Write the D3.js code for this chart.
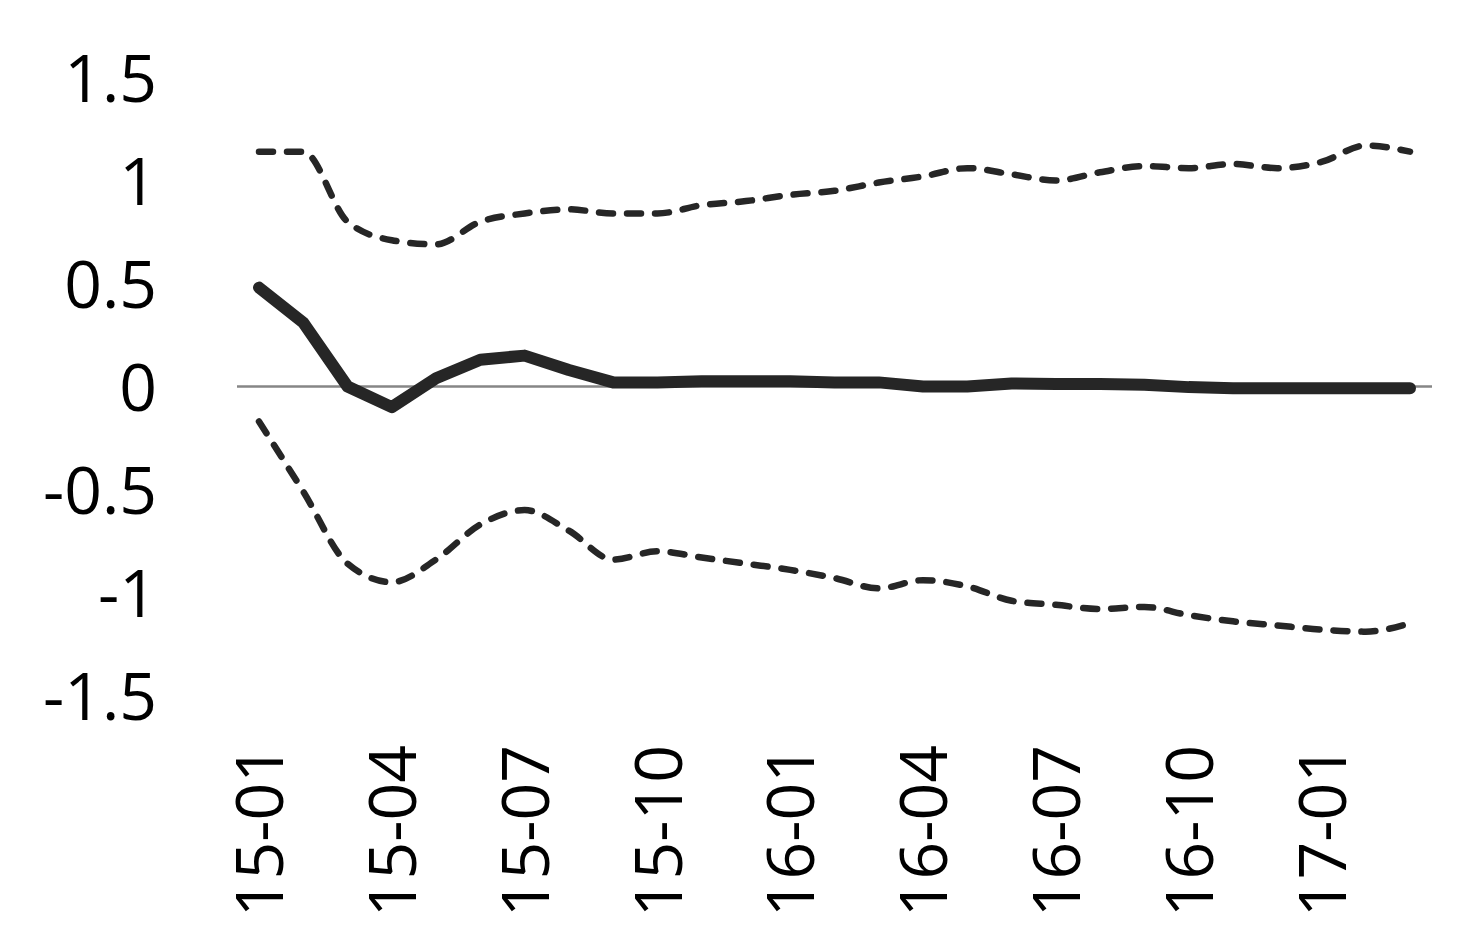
<!DOCTYPE html>
<html>
<head>
<meta charset="utf-8">
<script src="https://cdn.jsdelivr.net/npm/d3@7"></script>
<style>
  html, body { margin: 0; padding: 0; background: #fff; }
  svg text { font-family: "Open Sans", "Liberation Sans", sans-serif; fill: #000; }
</style>
</head>
<body>
<svg id="chart" width="1482" height="947"></svg>
<script>
const months = ["15-01","15-02","15-03","15-04","15-05","15-06","15-07","15-08","15-09","15-10","15-11","15-12",
                "16-01","16-02","16-03","16-04","16-05","16-06","16-07","16-08","16-09","16-10","16-11","16-12",
                "17-01","17-02","17-03"];
const tickLabels = ["15-01","15-04","15-07","15-10","16-01","16-04","16-07","16-10","17-01"];
const yTicks = [1.5, 1, 0.5, 0, -0.5, -1, -1.5];

const response = [0.48, 0.31, 0.00, -0.10, 0.04, 0.13, 0.15, 0.08, 0.02, 0.02, 0.025, 0.025,
                  0.025, 0.02, 0.02, 0.0, 0.0, 0.015, 0.012, 0.012, 0.008, -0.003, -0.008, -0.008,
                  -0.008, -0.008, -0.008];
const upper = [1.14, 1.14, 0.80, 0.71, 0.69, 0.80, 0.84, 0.86, 0.84, 0.84, 0.88, 0.90,
               0.93, 0.95, 0.99, 1.02, 1.06, 1.03, 1.00, 1.04, 1.07, 1.06, 1.08, 1.06,
               1.09, 1.17, 1.14];
const lower = [-0.17, -0.51, -0.86, -0.95, -0.84, -0.67, -0.60, -0.70, -0.84, -0.80, -0.83, -0.86,
               -0.89, -0.93, -0.98, -0.94, -0.97, -1.04, -1.06, -1.08, -1.07, -1.11, -1.14, -1.16,
               -1.18, -1.19, -1.15];

const svg = d3.select("#chart");
const x = d3.scalePoint().domain(months).range([259, 1410]);
const y = d3.scaleLinear().domain([-1.5, 1.5]).range([695.5, 77.5]);

// zero line
svg.append("line")
  .attr("x1", 237).attr("x2", 1432)
  .attr("y1", y(0)).attr("y2", y(0))
  .attr("stroke", "#868686").attr("stroke-width", 2.5);

// y axis labels
const yAxis = d3.axisLeft(y).tickValues(yTicks).tickSize(0).tickPadding(0)
  .tickFormat(d => d === 0 ? "0" : String(d));
const yg = svg.append("g").attr("transform", "translate(157,0)").call(yAxis);
yg.select(".domain").remove();
yg.selectAll("text").attr("font-size", 66).attr("dy", "0.36em").attr("fill", "#000")
  .style("font-family", '"Open Sans", "Liberation Sans", sans-serif');

// x axis labels (rotated)
const xAxis = d3.axisBottom(x).tickValues(tickLabels).tickSize(0).tickPadding(0);
const xg = svg.append("g").attr("transform", "translate(0,745)").call(xAxis);
xg.select(".domain").remove();
xg.selectAll("text")
  .attr("font-size", 66)
  .attr("text-anchor", "end")
  .attr("transform", "rotate(-90)")
  .attr("x", 0).attr("y", 0)
  .attr("dy", "0.36em")
  .attr("fill", "#000")
  .style("font-family", '"Open Sans", "Liberation Sans", sans-serif');

const smooth = d3.line().x((d, i) => x(months[i])).y(d => y(d)).curve(d3.curveMonotoneX);
const straight = d3.line().x((d, i) => x(months[i])).y(d => y(d));

[upper, lower].forEach(s => {
  svg.append("path").attr("d", smooth(s))
    .attr("fill", "none").attr("stroke", "#262626")
    .attr("stroke-width", 6.5).attr("stroke-linecap", "round")
    .attr("stroke-dasharray", "14,14");
});

svg.append("path").attr("d", straight(response))
  .attr("fill", "none").attr("stroke", "#262626")
  .attr("stroke-width", 12).attr("stroke-linecap", "round").attr("stroke-linejoin", "round");
</script>
</body>
</html>
